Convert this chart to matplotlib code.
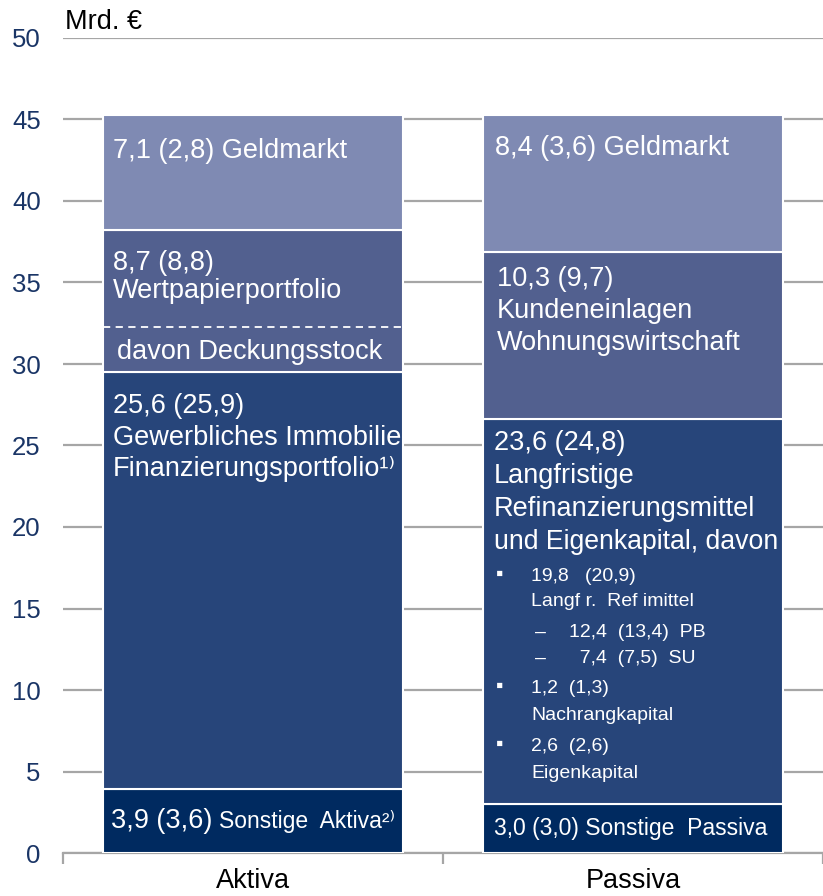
"""Bilanzstruktur als gestapelte Balken: Aktiva vs. Passiva in Mrd. Euro."""

import matplotlib.pyplot as plt
from matplotlib.ticker import FixedLocator

plt.rcParams["font.family"] = ["Liberation Sans", "DejaVu Sans"]

CATEGORIES = ["Aktiva", "Passiva"]

# segments bottom -> top, Mrd. Euro
AKTIVA_VALUES = [3.9, 25.6, 8.7, 7.1]
PASSIVA_VALUES = [3.0, 23.6, 10.3, 8.4]
DECKUNGSSTOCK = 2.8   # part of Wertpapierportfolio, estimated from dashed line

AKTIVA_LABELS = [
    ["3,9 (3,6)"],
    ["25,6 (25,9)", "Gewerbliches Immobilien-", "Finanzierungsportfolio¹⁾"],
    ["8,7 (8,8)", "Wertpapierportfolio"],
    ["7,1 (2,8) Geldmarkt"],
]
AKTIVA_SONSTIGE = "Sonstige  Aktiva²⁾"
DECKUNGS_LABEL = "davon Deckungsstock"

PASSIVA_LABELS = [
    ["3,0 (3,0) Sonstige  Passiva"],
    ["23,6 (24,8)", "Langfristige", "Refinanzierungsmittel", "und Eigenkapital, davon"],
    ["10,3 (9,7)", "Kundeneinlagen", "Wohnungswirtschaft"],
    ["8,4 (3,6) Geldmarkt"],
]
PASSIVA_DETAIL = [
    ("▪", "19,8   (20,9)"),
    ("", "Langf r.  Ref imittel"),
    ("–", "12,4  (13,4)  PB"),
    ("–", "  7,4  (7,5)  SU"),
    ("▪", "1,2  (1,3)"),
    ("", "Nachrangkapital"),
    ("▪", "2,6  (2,6)"),
    ("", "Eigenkapital"),
]

COLORS = ["#002a60", "#27457a", "#52608f", "#7f8ab3"]
GRID = "#a6a6a6"
TICK_COLOR = "#1a3566"
BAR_W = 0.79
PX = 0.72  # points per pixel at dpi 100
BIG = 19.5
NARROW = ["Liberation Sans Narrow", "Liberation Sans", "DejaVu Sans"]


def put(ax, x, y, text, dx_px, dy_px, size, **kw):
    """Place text offset in pixels from a data point (x, y)."""
    return ax.annotate(text, xy=(x, y), xytext=(dx_px * PX, -dy_px * PX),
                       textcoords="offset points", va="center", ha="left",
                       color="white", fontsize=size, annotation_clip=False, **kw)


fig = plt.figure(figsize=(8.23, 8.96), dpi=100)
ax = fig.add_axes([63 / 823, 43 / 896, 760 / 823, 815 / 896])

xs = range(len(CATEGORIES))
bars_a, bars_p = [], []
bottom = 0
for val, col in zip(AKTIVA_VALUES, COLORS):
    bars_a.append(ax.bar(0, val, BAR_W, bottom=bottom, color=col,
                         edgecolor="white", linewidth=1.5, zorder=3)[0])
    bottom += val
bottom = 0
for val, col in zip(PASSIVA_VALUES, COLORS):
    bars_p.append(ax.bar(1, val, BAR_W, bottom=bottom, color=col,
                         edgecolor="white", linewidth=1.5, zorder=3)[0])
    bottom += val

# dashed line marking Deckungsstock inside the Wertpapier segment
deck_top = AKTIVA_VALUES[0] + AKTIVA_VALUES[1] + DECKUNGSSTOCK
ax.hlines(deck_top, -BAR_W / 2, BAR_W / 2, colors="white", linestyles=(0, (4, 3)),
          linewidth=1.3, zorder=4)

# --- Aktiva labels
left_a = -BAR_W / 2
mid0 = bars_a[0].get_y() + bars_a[0].get_height() / 2
put(ax, left_a, mid0, AKTIVA_LABELS[0][0], 8, 0, BIG)
put(ax, left_a, mid0, AKTIVA_SONSTIGE, 116, 0, 16.5, family=NARROW)
for i, dy in zip(range(3), [34, 66, 97]):
    tx = put(ax, left_a, bars_a[1].get_y() + bars_a[1].get_height(),
             AKTIVA_LABELS[1][i], 10, dy, BIG, zorder=5)
    tx.set_clip_path(bars_a[1])
for i, dy in zip(range(2), [33, 61]):
    put(ax, left_a, bars_a[2].get_y() + bars_a[2].get_height(), AKTIVA_LABELS[2][i], 10, dy, BIG)
put(ax, left_a, (bars_a[2].get_y() + deck_top) / 2, DECKUNGS_LABEL, 14, 3, BIG)
put(ax, left_a, bars_a[3].get_y() + bars_a[3].get_height(), AKTIVA_LABELS[3][0], 10, 36, BIG)

# --- Passiva labels
left_p = 1 - BAR_W / 2
put(ax, left_p, bars_p[0].get_y() + bars_p[0].get_height() / 2, PASSIVA_LABELS[0][0], 11, 0,
    16.5, family=NARROW)
top1 = bars_p[1].get_y() + bars_p[1].get_height()
for line, dy in zip(PASSIVA_LABELS[1], [24, 57, 90, 123]):
    size = BIG if "davon" not in line else 19.2
    put(ax, left_p, top1, line, 11, dy, size)
for (mark, line), dy in zip(PASSIVA_DETAIL, [157, 182, 213, 239, 269, 296, 327, 354]):
    if mark == "▪":
        put(ax, left_p, top1, mark, 13, dy - 2, 15)
        put(ax, left_p, top1, line, 48, dy, 14)
    elif mark == "–":
        put(ax, left_p, top1, mark, 52, dy, 14)
        put(ax, left_p, top1, line, 86, dy, 14)
    else:
        put(ax, left_p, top1, line, 48, dy, 14)
top2 = bars_p[2].get_y() + bars_p[2].get_height()
for line, dy in zip(PASSIVA_LABELS[2], [27, 59, 91]):
    put(ax, left_p, top2, line, 14, dy, BIG)
put(ax, left_p, bars_p[3].get_y() + bars_p[3].get_height(), PASSIVA_LABELS[3][0], 12, 33, BIG)

# --- axes styling
ax.set_xlim(-0.5, 1.5)
ax.set_ylim(0, 50)
ax.set_yticks(range(0, 51, 5))
ax.grid(axis="y", color=GRID, linewidth=1.6, zorder=0)
ax.set_axisbelow(True)
for side in ["left", "right", "top"]:
    ax.spines[side].set_visible(False)
ax.spines["bottom"].set_color(GRID)
ax.spines["bottom"].set_linewidth(1.6)
ax.tick_params(axis="y", length=0, labelsize=18.5, labelcolor=TICK_COLOR, pad=16)
ax.set_xticks(list(xs))
ax.set_xticklabels(CATEGORIES, fontsize=19.5, family=NARROW)
ax.tick_params(axis="x", which="major", length=0, pad=11)
ax.xaxis.set_minor_locator(FixedLocator([-0.5, 0.5, 1.5]))
ax.tick_params(axis="x", which="minor", length=8, width=1.6, color=GRID)

fig.text(65 / 823, 1 - 22 / 896, "Mrd. €", fontsize=19.5, va="center", ha="left")

fig.savefig("out.png", dpi=100)
